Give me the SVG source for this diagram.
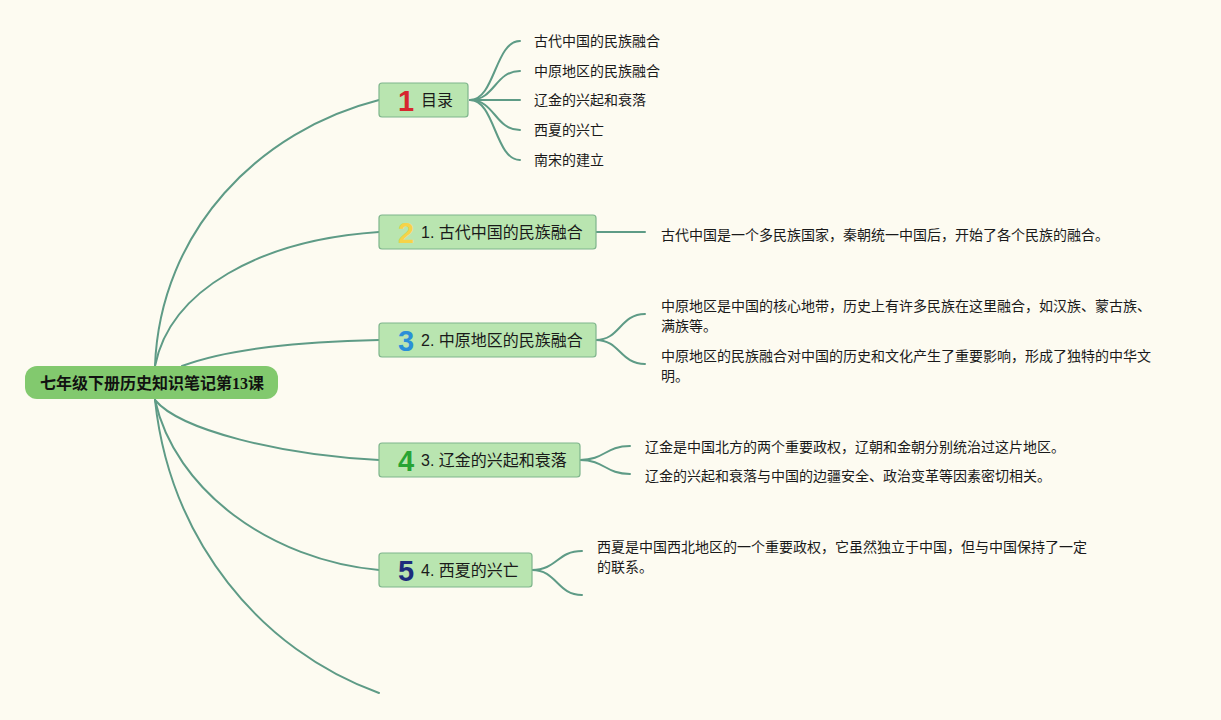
<svg xmlns="http://www.w3.org/2000/svg" width="1221" height="720" viewBox="0 0 1221 720">
<style>
.bg{fill:#fdfbf1}
.c{fill:none;stroke:#5e9b86;stroke-width:2;stroke-linecap:round}
.node{fill:#b9e5b0;stroke:#7fb58c;stroke-width:1.2}
.root{fill:#82c96e}
.nt{font-family:"Liberation Sans","Noto Sans CJK SC",sans-serif;font-size:16px;fill:#1a1a1a}
.rt{font-family:"Liberation Serif","Noto Sans CJK SC",serif;font-size:16px;font-weight:bold;fill:#111}
.num{font-family:"Liberation Sans","DejaVu Sans",sans-serif;font-size:29px;font-weight:bold;text-anchor:middle}
.t{font-family:"Liberation Sans","Noto Sans CJK SC",sans-serif;font-size:14px;fill:#1a1a1a}
</style>
<rect class="bg" x="0" y="0" width="1221" height="720"/>
<g id="connectors">
<path class="c" d="M155,366 C160,230 260,130 379,100"/>
<path class="c" d="M155,366 C170,290 260,240 379,232"/>
<path class="c" d="M182,366 C230,348 300,342 379,340"/>
<path class="c" d="M155,400 C180,430 280,455 379,460"/>
<path class="c" d="M155,400 C175,490 270,560 379,570"/>
<path class="c" d="M155,400 C170,540 260,650 379,693"/>
<path class="c" d="M470,100 C495,100 495,41 520,41"/>
<path class="c" d="M470,100 C495,100 495,71 520,71"/>
<path class="c" d="M470,100 L520,100"/>
<path class="c" d="M470,100 C495,100 495,130 520,130"/>
<path class="c" d="M470,100 C495,100 495,160 520,160"/>
<path class="c" d="M596,232 L645,232"/>
<path class="c" d="M596,340 C620,340 620,314 645,314"/>
<path class="c" d="M596,340 C620,340 620,364 645,364"/>
<path class="c" d="M580,460 C605,460 605,446 630,446"/>
<path class="c" d="M580,460 C605,460 605,474 630,474"/>
<path class="c" d="M532,570 C557,570 557,551 582,551"/>
<path class="c" d="M532,570 C557,570 557,595 582,595"/>
</g>
<g id="root">
<rect class="root" x="25" y="366" width="253" height="33" rx="12"/>
<text class="rt" x="152" y="389" text-anchor="middle">七年级下册历史知识笔记第13课</text>
</g>
<g id="n1">
<rect class="node" x="379" y="83" width="89" height="34" rx="3"/>
<text class="num" x="406" y="111" fill="#d6262e">1</text>
<text class="nt" x="421" y="106">目录</text>
</g>
<g id="n1s">
<text class="t" x="534" y="46">古代中国的民族融合</text>
<text class="t" x="534" y="76">中原地区的民族融合</text>
<text class="t" x="534" y="105">辽金的兴起和衰落</text>
<text class="t" x="534" y="135">西夏的兴亡</text>
<text class="t" x="534" y="165">南宋的建立</text>
</g>
<g id="n2">
<rect class="node" x="379" y="215" width="217" height="34" rx="3"/>
<text class="num" x="406" y="243" fill="#f6d348">2</text>
<text class="nt" x="421" y="238">1. 古代中国的民族融合</text>
</g>
<g id="n2s">
<text class="t" x="661" y="240">古代中国是一个多民族国家，秦朝统一中国后，开始了各个民族的融合。</text>
</g>
<g id="n3">
<rect class="node" x="379" y="323" width="217" height="34" rx="3"/>
<text class="num" x="406" y="351" fill="#2a8fd8">3</text>
<text class="nt" x="421" y="346">2. 中原地区的民族融合</text>
</g>
<g id="n3s">
<text class="t" x="661" y="311">中原地区是中国的核心地带，历史上有许多民族在这里融合，如汉族、蒙古族、</text>
<text class="t" x="661" y="331">满族等。</text>
<text class="t" x="661" y="361">中原地区的民族融合对中国的历史和文化产生了重要影响，形成了独特的中华文</text>
<text class="t" x="661" y="381">明。</text>
</g>
<g id="n4">
<rect class="node" x="379" y="443" width="201" height="34" rx="3"/>
<text class="num" x="406" y="471" fill="#28a434">4</text>
<text class="nt" x="421" y="466">3. 辽金的兴起和衰落</text>
</g>
<g id="n4s">
<text class="t" x="645" y="452">辽金是中国北方的两个重要政权，辽朝和金朝分别统治过这片地区。</text>
<text class="t" x="645" y="481">辽金的兴起和衰落与中国的边疆安全、政治变革等因素密切相关。</text>
</g>
<g id="n5">
<rect class="node" x="379" y="553" width="153" height="34" rx="3"/>
<text class="num" x="406" y="581" fill="#1c2c7c">5</text>
<text class="nt" x="421" y="576">4. 西夏的兴亡</text>
</g>
<g id="n5s">
<text class="t" x="597" y="552">西夏是中国西北地区的一个重要政权，它虽然独立于中国，但与中国保持了一定</text>
<text class="t" x="597" y="572">的联系。</text>
</g>
</svg>
